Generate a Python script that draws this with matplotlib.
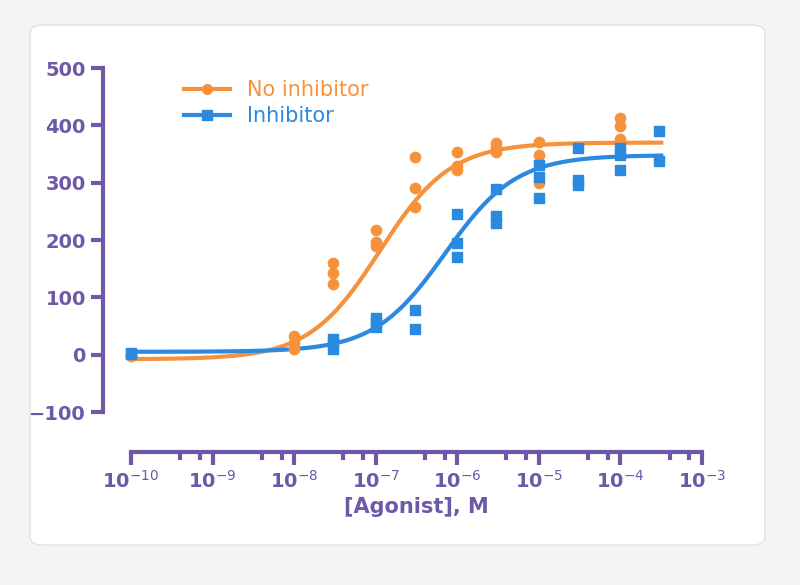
import numpy as np
import matplotlib
matplotlib.use("Agg")
import matplotlib.pyplot as plt
from matplotlib.patches import FancyBboxPatch
from matplotlib.ticker import FixedLocator, NullFormatter

conc_no = [1e-10]*2 + [1e-8]*3 + [3e-8]*3 + [1e-7]*3 + [3e-7]*3 + [1e-6]*3 + [3e-6]*3 + [1e-5]*3 + [1e-4]*3
resp_no = [0, -2, 33, 21, 10, 160, 143, 124, 218, 197, 190, 345, 291, 258,
           354, 329, 322, 369, 362, 354, 371, 348, 300, 413, 399, 376]
conc_in = [1e-10]*2 + [3e-8]*3 + [1e-7]*3 + [3e-7]*2 + [1e-6]*3 + [3e-6]*3 + [1e-5]*3 + [3e-5]*3 + [1e-4]*3 + [3e-4]*2
resp_in = [2, 3, 28, 21, 10, 64, 57, 49, 78, 44, 246, 195, 170, 289, 242, 230,
           331, 310, 273, 360, 305, 296, 360, 348, 322, 390, 338]

# fitted curve parameters (bottom, top, logEC50, hill)
fit_no = (-8, 370, -6.95, 1.0)
fit_in = (5, 348, -6.15, 1.0)

purple = "#6e58a8"
orange = "#f7923a"
blue = "#2a8ae0"

fig = plt.figure(figsize=(8, 5.85), dpi=100)
fig.patch.set_facecolor("#f4f4f4")
card = FancyBboxPatch((30/800, 1-545/585), 735/800, 520/585,
                      boxstyle="round,pad=0,rounding_size=0.015",
                      transform=fig.transFigure, facecolor="white",
                      edgecolor="#e2e2e2", linewidth=1, zorder=-10)
fig.patches.append(card)

ax = fig.add_axes([131/800, 1-412/585, (702-131)/800, (412-68)/585])
ax.set_zorder(5)
ax.set_facecolor("none")
ax.set_xscale("log")
ax.set_xlim(1e-10, 1e-3)
ax.set_ylim(-100, 500)

xs = np.logspace(-10, -3.5, 400)
for p, c in ((fit_no, orange), (fit_in, blue)):
    b, t, le, h = p
    ax.plot(xs, b + (t - b) / (1 + 10**((le - np.log10(xs)) * h)), color=c, lw=3, zorder=2)
ax.scatter(conc_no, resp_no, color=orange, marker="o", s=55, zorder=3, clip_on=False)
ax.scatter(conc_in, resp_in, color=blue, marker="s", s=55, zorder=3, clip_on=False)

ax.plot([], [], color=orange, lw=3, marker="o", ms=7, label="No inhibitor")
ax.plot([], [], color=blue, lw=3, marker="s", ms=7, label="Inhibitor")
leg = ax.legend(loc="upper left", bbox_to_anchor=(0.06, 1.02), frameon=False,
                fontsize=15, handlelength=2.2, labelspacing=0.3)
for txt, c in zip(leg.get_texts(), (orange, blue)):
    txt.set_color(c)

for s in ("top", "right"):
    ax.spines[s].set_visible(False)
ax.spines["left"].set_position(("outward", 20))
ax.spines["bottom"].set_position(("outward", 29))
for s in ("left", "bottom"):
    ax.spines[s].set_color(purple)
    ax.spines[s].set_linewidth(3)

ax.set_yticks([-100, 0, 100, 200, 300, 400, 500])
ax.set_xticks([10.0**k for k in range(-10, -2)])
ax.set_xticklabels([f"10$^{{{k}}}$" for k in range(-10, -2)])
minors = [m * 10.0**k for k in range(-10, -3) for m in (4, 7)]
ax.xaxis.set_minor_locator(FixedLocator(minors))
ax.xaxis.set_minor_formatter(NullFormatter())
ax.tick_params(axis="both", which="major", colors=purple, width=3, length=9,
               labelsize=14, direction="out")
ax.tick_params(axis="x", which="minor", colors=purple, width=3, length=6)
for lab in ax.get_xticklabels() + ax.get_yticklabels():
    lab.set_fontweight("bold")
ax.set_xlabel("[Agonist], M", color=purple, fontsize=15, fontweight="bold", labelpad=4)

fig.savefig("out.png", dpi=100, facecolor=fig.get_facecolor())
